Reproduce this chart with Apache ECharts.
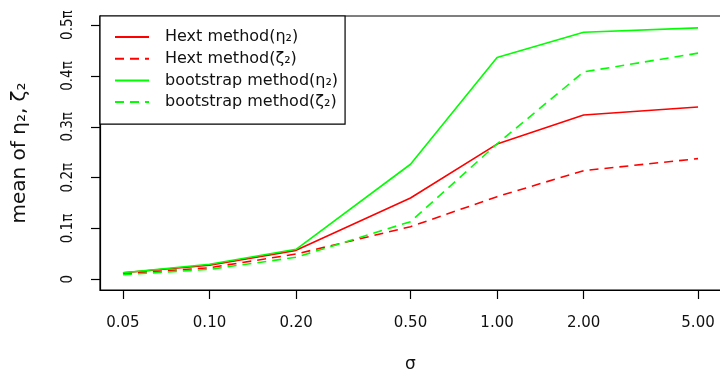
<!DOCTYPE html>
<html>
<head>
<meta charset="utf-8">
<script src="https://cdn.jsdelivr.net/npm/echarts@6/dist/echarts.min.js"></script>
<style>
html, body { margin: 0; padding: 0; background: #fff; }
#chart { width: 720px; height: 373px; }
</style>
</head>
<body>
<div id="chart"></div>
<script>
// sigma values (log axis)
const sigma = [0.05, 0.10, 0.20, 0.50, 1.00, 2.00, 5.00];
const xTicks = [0.05, 0.10, 0.20, 0.50, 1.00, 2.00, 5.00];
// y values are in units of pi
const yTicks = [0, 0.1, 0.2, 0.3, 0.4, 0.5];
const hextEta = [0.013, 0.0276, 0.057, 0.160, 0.266, 0.3234, 0.339];
const hextZeta = [0.011, 0.0228, 0.0498, 0.1035, 0.1626, 0.2138, 0.2374];
const bootEta = [0.013, 0.0295, 0.059, 0.2264, 0.4362, 0.486, 0.4947];
const bootZeta = [0.009, 0.0197, 0.0433, 0.1134, 0.2663, 0.408, 0.4449];
const seriesNames = ['Hext method(η₂)', 'Hext method(ζ₂)', 'bootstrap method(η₂)', 'bootstrap method(ζ₂)'];

const font = 'DejaVu Sans';
const fontC = 'DejaVu Sans Condensed';

function pairs(ys) {
	return sigma.map((s, i) => [s, ys[i]]);
}

function makeLine(name, ys, color, dashed) {
	return {
		name: name,
		type: 'line',
		symbol: 'none',
		data: pairs(ys),
		lineStyle: {
			color: color,
			width: 1.6,
			type: dashed ? [9, 6] : 'solid'
		},
		itemStyle: { color: color },
		emphasis: { disabled: true }
	};
}

var myChart = echarts.init(document.getElementById('chart'), null, { renderer: 'canvas' });
var option = {
	animation: false,
	backgroundColor: '#fff',
	grid: {
		left: 100,
		top: 16,
		right: -1,
		bottom: 83,
		outerBoundsMode: 'none',
		containLabel: false,
		show: true,
		borderColor: '#000',
		borderWidth: 1.2
	},
	legend: {
		left: 100,
		top: 16,
		orient: 'vertical',
		data: seriesNames,
		itemWidth: 34,
		itemHeight: 14,
		itemGap: 5.7,
		padding: [13, 7, 14, 14],
		backgroundColor: '#fff',
		borderColor: '#000',
		borderWidth: 1.2,
		itemStyle: { opacity: 0 },
		textStyle: {
			fontFamily: font,
			fontSize: 16,
			color: '#111',
			lineHeight: 16,
			padding: [0, 0, 0, 11]
		}
	},
	xAxis: {
		type: 'log',
		logBase: 10,
		min: 0.0416,
		max: 6.01,
		name: 'σ',
		nameLocation: 'middle',
		nameGap: 66,
		nameTextStyle: { fontFamily: font, fontSize: 17, color: '#111' },
		splitLine: { show: false },
		axisLine: { show: true, onZero: false, lineStyle: { color: '#000', width: 1.2 } },
		axisTick: {
			show: true,
			length: 9,
			customValues: xTicks,
			lineStyle: { color: '#000', width: 1.2 }
		},
		minorTick: { show: false },
		axisLabel: {
			customValues: xTicks,
			margin: 26,
			fontFamily: font,
			fontSize: 15,
			color: '#111',
			formatter: (v) => Number(v).toFixed(2)
		}
	},
	yAxis: {
		type: 'value',
		min: -0.021,
		max: 0.518,
		name: 'mean of η₂, ζ₂',
		nameLocation: 'middle',
		nameGap: 70,
		nameTextStyle: { fontFamily: font, fontSize: 20, color: '#111' },
		splitLine: { show: false },
		axisLine: { show: true, onZero: false, lineStyle: { color: '#000', width: 1.2 } },
		axisTick: {
			show: true,
			length: 9,
			customValues: yTicks,
			lineStyle: { color: '#000', width: 1.2 }
		},
		axisLabel: {
			customValues: yTicks,
			rotate: 90,
			margin: 24,
			fontFamily: fontC,
			fontSize: 15,
			color: '#111',
			formatter: (v) => (Math.abs(v) < 1e-9 ? '0' : Number(v).toFixed(1) + 'π')
		}
	},
	series: [
		makeLine(seriesNames[0], hextEta, '#ff0000', false),
		makeLine(seriesNames[1], hextZeta, '#ff0000', true),
		makeLine(seriesNames[2], bootEta, '#00ff00', false),
		makeLine(seriesNames[3], bootZeta, '#00ff00', true)
	]
};
myChart.setOption(option);
</script>
</body>
</html>
